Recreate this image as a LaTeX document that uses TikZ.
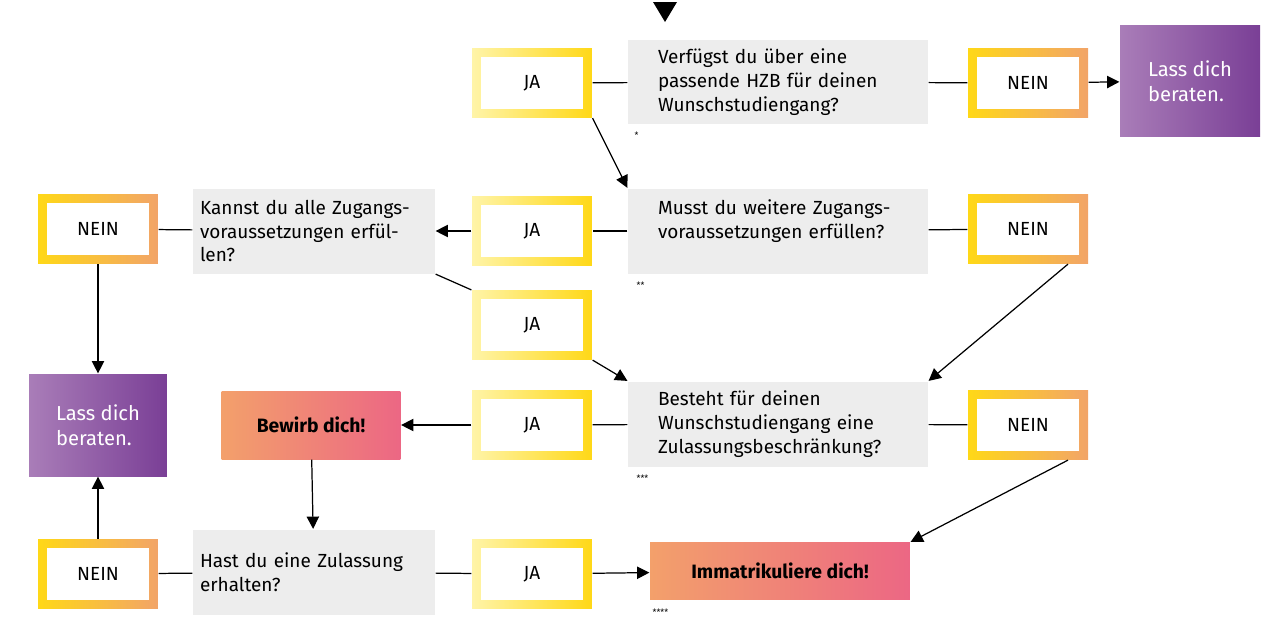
\documentclass[tikz,border=0pt]{standalone}
\usepackage{fontspec}
\setmainfont{Fira Sans}
\usetikzlibrary{arrows.meta}
\definecolor{gelbhell}{HTML}{FFF4A8}
\definecolor{gelb}{HTML}{FFD817}
\definecolor{orange}{HTML}{F2A468}
\definecolor{lilahell}{HTML}{A97DB8}
\definecolor{lila}{HTML}{7A3F96}
\definecolor{lachs}{HTML}{F3A06B}
\definecolor{pink}{HTML}{EC6784}
\definecolor{grau}{HTML}{EDEDED}

\begin{document}
\begin{tikzpicture}[x=0.02cm,y=-0.02cm,font=\fontsize{10.8}{13.6}\selectfont,
  rahmen/.style={minimum width=2.4cm,minimum height=1.38cm,inner sep=0pt,
    path picture={\fill[white]
      ([shift={(5pt,-5pt)}]path picture bounding box.north west) rectangle
      ([shift={(-5pt,5pt)}]path picture bounding box.south east);}},
  ja/.style={rahmen,left color=gelbhell,right color=gelb},
  nein/.style={rahmen,left color=gelb,right color=orange},
  frage/.style 2 args={fill=grau,minimum width=#1,minimum height=1.7cm,
    text width=#2,align=left,inner sep=0pt},
  rat/.style={left color=lilahell,right color=lila,text=white,align=left,inner sep=0pt,
    font=\fontsize{11.5}{14.5}\selectfont},
  tun/.style={left color=lachs,right color=pink,font=\fontsize{11}{13}\selectfont\bfseries,inner sep=0pt},
  stern/.style={font=\tiny,inner sep=0pt,anchor=west},
  pfeil/.style={-{Triangle[length=7pt,width=7pt]}},
  line width=0.7pt]
\useasboundingbox (0,0) rectangle (1280,640);

% Einstieg
\fill (653,2) -- (677,2) -- (665,22) -- cycle;

% Zeile 1
\node[frage={6cm}{4.8cm}] (hzb) at (778,82) {Verfügst du über eine\\passende HZB für deinen\\Wunschstudiengang?};
\node[ja] (ja1) at (532,83) {JA};
\node[nein] (nein1) at (1028,83) {NEIN};
\node[rat,minimum width=2.8cm,minimum height=2.22cm] (rat1) at (1190,81) {Lass dich\\beraten.};
\node[stern] at (634,135) {*};

% Zeile 2
\node[frage={6cm}{4.8cm}] (zug) at (778,231) {Musst du weitere Zugangs-\\voraussetzungen erfüllen?\\\mbox{}};
\node[ja] (ja2) at (532,231) {JA};
\node[nein] (nein2) at (1028,229) {NEIN};
\node[frage={4.84cm}{4.56cm}] (kannst) at (314,231) {Kannst du alle Zugangs-\\voraussetzungen erfül-\\len?};
\node[nein] (nein3) at (98,229) {NEIN};
\node[stern] at (636,285) {**};
\node[ja] (ja3) at (532,325) {JA};

% Zeile 3
\node[frage={6cm}{4.8cm}] (nc) at (778,424) {Besteht für deinen\\Wunschstudiengang eine\\Zulassungsbeschränkung?};
\node[ja] (ja4) at (532,425) {JA};
\node[nein] (nein4) at (1028,425) {NEIN};
\node[tun,minimum width=3.58cm,minimum height=1.36cm] (bewirb) at (311,425) {Bewirb dich!};
\node[rat,minimum width=2.76cm,minimum height=2.04cm] (rat2) at (98,425) {Lass dich\\beraten.};
\node[stern] at (636,478) {***};

% Zeile 4
\node[frage={4.84cm}{4.56cm}] (zul) at (314,572) {Hast du eine Zulassung\\erhalten?};
\node[nein] (nein5) at (98,574) {NEIN};
\node[ja] (ja5) at (532,574) {JA};
\node[tun,minimum width=5.2cm,minimum height=1.14cm] (imma) at (780,571) {Immatrikuliere dich!};
\node[stern] at (652,612) {****};

% Verbindungen
\draw (ja1) -- (hzb);
\draw (hzb) -- (nein1);
\draw[pfeil] (nein1) -- (rat1);
\draw[pfeil] (ja1.south east) -- (zug.north west);
\draw (zug) -- (ja2);
\draw[pfeil] (ja2) -- (kannst);
\draw (zug) -- (nein2);
\draw (nein3) -- (kannst);
\draw[pfeil] (nein3) -- (rat2);
\draw (kannst.south east) -- (ja3.north west);
\draw[pfeil] (ja3.south east) -- (nc.north west);
\draw[pfeil] (nein2.south) ++(40,0) coordinate (n2) (n2) -- (nc.north east);
\draw (nc) -- (ja4);
\draw[pfeil] (ja4) -- (bewirb);
\draw (nc) -- (nein4);
\draw[pfeil] ([xshift=0.8cm]nein4.south) -- (imma.north east);
\draw[pfeil] (bewirb) -- (zul);
\draw (zul) -- (nein5);
\draw[pfeil] (nein5) -- (rat2);
\draw (zul) -- (ja5);
\draw[pfeil] (ja5) -- (imma);
\end{tikzpicture}
\end{document}
